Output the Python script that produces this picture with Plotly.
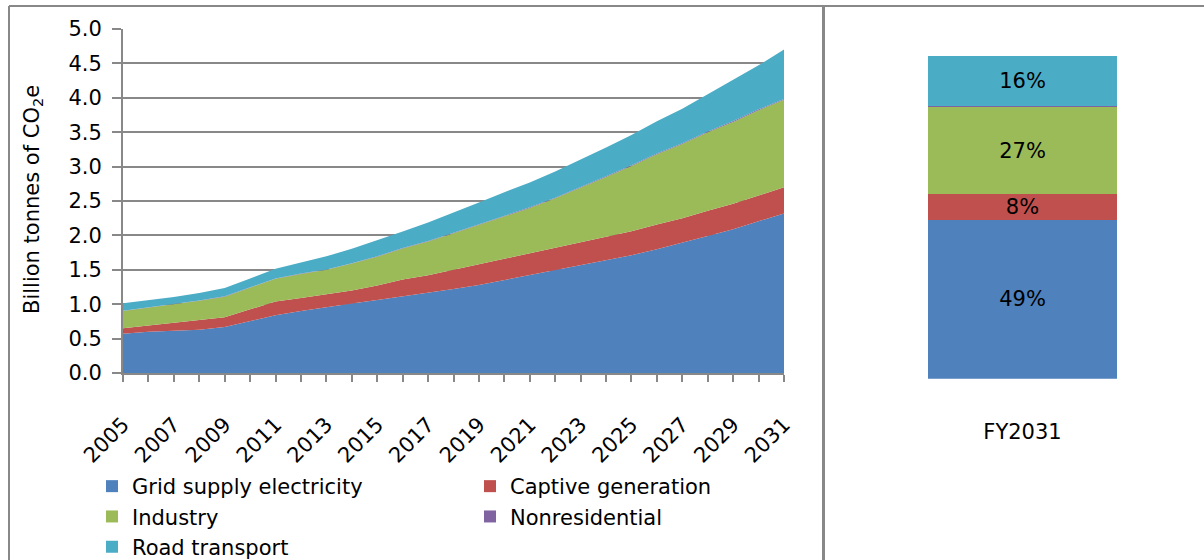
import plotly.graph_objects as go

# ---------------- data ----------------
years = list(range(2005, 2032))

grid_supply = [0.57, 0.60, 0.615, 0.63, 0.67, 0.755, 0.84, 0.90, 0.96, 1.01,
               1.06, 1.11, 1.16, 1.22, 1.28, 1.35, 1.42, 1.49, 1.56, 1.63,
               1.71, 1.80, 1.89, 1.99, 2.09, 2.20, 2.32]
captive_generation = [0.08, 0.09, 0.105, 0.13, 0.14, 0.17, 0.20, 0.19, 0.18, 0.19,
                      0.21, 0.25, 0.26, 0.28, 0.29, 0.31, 0.32, 0.33, 0.34, 0.35,
                      0.35, 0.36, 0.36, 0.37, 0.37, 0.38, 0.38]
industry = [0.25, 0.26, 0.27, 0.29, 0.30, 0.315, 0.33, 0.35, 0.36, 0.39,
            0.42, 0.45, 0.49, 0.53, 0.58, 0.62, 0.66, 0.72, 0.79, 0.87,
            0.95, 1.02, 1.08, 1.14, 1.19, 1.24, 1.27]
nonresidential = [0.004, 0.004, 0.004, 0.004, 0.005, 0.005, 0.005, 0.005, 0.006, 0.006,
                  0.006, 0.006, 0.007, 0.007, 0.007, 0.008, 0.008, 0.008, 0.009, 0.009,
                  0.009, 0.010, 0.010, 0.011, 0.011, 0.012, 0.012]
road_transport = [0.11, 0.10, 0.11, 0.11, 0.12, 0.13, 0.14, 0.16, 0.19, 0.21,
                  0.23, 0.24, 0.27, 0.29, 0.32, 0.34, 0.36, 0.38, 0.40, 0.42,
                  0.44, 0.47, 0.50, 0.54, 0.59, 0.64, 0.72]

bar_category = ["FY2031"]
share_2031 = [49.1, 8.1, 27.0, 0.3, 15.5]
share_labels = ["49%", "8%", "27%", None, "16%"]

series_names = ["Grid supply electricity", "Captive generation", "Industry",
                "Nonresidential", "Road transport"]
series_colors = ["#4F81BD", "#C0504D", "#9BBB59", "#8064A2", "#4BACC6"]
series_legend = ["legend", "legend2", "legend", "legend2", "legend"]
series_values = [grid_supply, captive_generation, industry, nonresidential, road_transport]

label_years = years[::2]
minor_years = years[1::2]

# ---------------- figure ----------------
W, H = 1204, 560
px = lambda v: v / W
py = lambda v: 1 - v / H

GRAY = "#888888"
FONT = "DejaVu Sans"

fig = go.Figure()

for name, vals, col in zip(series_names, series_values, series_colors):
    fig.add_trace(go.Scatter(
        x=years, y=vals, name=name, stackgroup="one", mode="lines",
        line=dict(width=0, color=col), fillcolor=col,
        showlegend=False, hoverinfo="x+y+name", xaxis="x", yaxis="y"))

for name, val, lab, col, lg in zip(series_names, share_2031, share_labels,
                                   series_colors, series_legend):
    bar_kw = {}
    if lab is not None:
        bar_kw = dict(text=[lab], textposition="inside", insidetextanchor="middle",
                      textfont=dict(size=21, color="black", family=FONT))
    fig.add_trace(go.Bar(
        x=bar_category, y=[val], name=name, marker=dict(color=col, line=dict(width=0)),
        width=0.663, xaxis="x2", yaxis="y2", legend=lg, showlegend=True, **bar_kw))

fig.update_layout(
    width=W, height=H,
    margin=dict(l=0, r=0, t=0, b=0, autoexpand=False),
    paper_bgcolor="white", plot_bgcolor="rgba(0,0,0,0)",
    font=dict(family=FONT, size=21, color="black"),
    barmode="stack",
    uniformtext=dict(minsize=21, mode="show"),
    xaxis=dict(domain=[px(123), px(784)], range=[2005, 2031],
               tickmode="array", tickvals=label_years,
               ticktext=[str(y) for y in label_years],
               tickangle=-45, ticks="outside", ticklen=7, tickwidth=2, tickcolor=GRAY,
               minor=dict(tickmode="array", tickvals=minor_years, ticks="outside",
                          ticklen=7, tickwidth=2, tickcolor=GRAY, showgrid=False),
               showline=True, linecolor=GRAY, linewidth=2,
               showgrid=False, zeroline=False, ticklabelstandoff=22,
               tickfont=dict(size=21), automargin=False),
    yaxis=dict(domain=[py(373), py(29)], range=[0, 5], dtick=0.5, tickformat=".1f",
               ticks="outside", ticklen=9, tickwidth=2, tickcolor=GRAY,
               showline=True, linecolor=GRAY, linewidth=2,
               showgrid=True, gridcolor=GRAY, gridwidth=2, zeroline=False,
               ticklabelstandoff=6, tickfont=dict(size=21), automargin=False),
    xaxis2=dict(domain=[px(880), px(1165)], range=[-0.5, 0.5], type="category",
                showline=False, showgrid=False, zeroline=False,
                ticks="outside", ticklen=34, tickcolor="rgba(0,0,0,0)",
                tickfont=dict(size=21), anchor="y2", automargin=False),
    yaxis2=dict(domain=[py(378.7), py(56)], range=[0, 100], visible=False, anchor="x2"),
    legend=dict(x=px(92), y=py(466), xanchor="left", yanchor="top",
                orientation="v", traceorder="normal", bgcolor="rgba(0,0,0,0)",
                font=dict(size=21), tracegroupgap=0),
    legend2=dict(x=px(470), y=py(466), xanchor="left", yanchor="top",
                 orientation="v", traceorder="normal", bgcolor="rgba(0,0,0,0)",
                 font=dict(size=21), tracegroupgap=0),
    annotations=[dict(text="Billion tonnes of CO<sub>2</sub>e", x=px(33), y=py(200),
                      xref="paper", yref="paper", showarrow=False, textangle=-90,
                      xanchor="center", yanchor="middle", font=dict(size=21))],
    shapes=[
        dict(type="line", xref="paper", yref="paper", x0=px(9), x1=1, y0=py(6), y1=py(6),
             line=dict(color=GRAY, width=2)),
        dict(type="line", xref="paper", yref="paper", x0=px(9), x1=px(9), y0=py(6), y1=0,
             line=dict(color=GRAY, width=2)),
        dict(type="line", xref="paper", yref="paper", x0=px(823.5), x1=px(823.5), y0=py(6), y1=0,
             line=dict(color=GRAY, width=3)),
    ],
)

fig.write_html("out.html")
